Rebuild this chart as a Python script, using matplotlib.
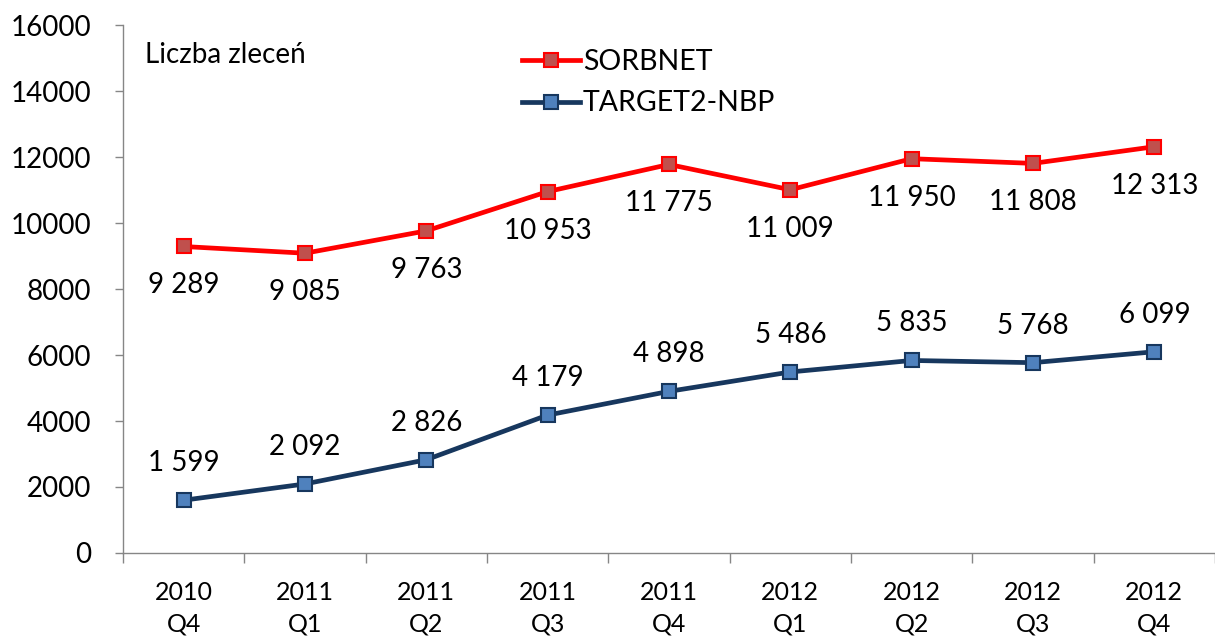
import matplotlib
matplotlib.use("Agg")
import matplotlib.pyplot as plt

categories = ["2010\nQ4", "2011\nQ1", "2011\nQ2", "2011\nQ3", "2011\nQ4",
              "2012\nQ1", "2012\nQ2", "2012\nQ3", "2012\nQ4"]
sorbnet = [9289, 9085, 9763, 10953, 11775, 11009, 11950, 11808, 12313]
target2 = [1599, 2092, 2826, 4179, 4898, 5486, 5835, 5768, 6099]
yticks = [0, 2000, 4000, 6000, 8000, 10000, 12000, 14000, 16000]

plt.rcParams['font.family'] = ['Lato', 'DejaVu Sans']

fig = plt.figure(figsize=(12.15, 6.43), dpi=100)
ax = fig.add_axes([0.1012, 0.140, 0.8988, 0.821])

x = list(range(len(categories)))
ax.plot(x, sorbnet, color='#FF0000', lw=3.4, marker='s', markersize=10.5,
        markerfacecolor='#C0504D', markeredgecolor='#FF0000', markeredgewidth=1.5,
        label='SORBNET', zorder=3)
ax.plot(x, target2, color='#17375E', lw=3.4, marker='s', markersize=10.5,
        markerfacecolor='#4F81BD', markeredgecolor='#17375E', markeredgewidth=1.5,
        label='TARGET2-NBP', zorder=3)

def fmt(v):
    return f"{v:,}".replace(",", " ")

for xi, v in zip(x, sorbnet):
    ax.annotate(fmt(v), (xi, v), xytext=(0, -39), textcoords='offset pixels',
                ha='center', va='center', fontsize=20)
for xi, v in zip(x, target2):
    ax.annotate(fmt(v), (xi, v), xytext=(0, 37), textcoords='offset pixels',
                ha='center', va='center', fontsize=20)

ax.set_xlim(-0.5, len(categories) - 0.5)
ax.set_ylim(0, 16000)
ax.set_yticks(yticks)
ax.set_yticklabels([str(t) for t in yticks], fontsize=20)
ax.set_xticks(x)
ax.set_xticklabels(categories, fontsize=18, linespacing=1.45)
ax.tick_params(axis='x', length=0, pad=20)
ax.set_xticks([i - 0.5 for i in range(len(categories) + 1)], minor=True)
ax.tick_params(axis='x', which='minor', length=7, color='#868686', width=1)
ax.tick_params(axis='y', length=6, color='#868686', width=1, pad=17)

for s in ['top', 'right']:
    ax.spines[s].set_visible(False)
for s in ['left', 'bottom']:
    ax.spines[s].set_color('#868686')
    ax.spines[s].set_linewidth(1)

ax.text(0.02, 0.967, 'Liczba zleceń', transform=ax.transAxes, fontsize=20,
        ha='left', va='top')

leg = ax.legend(loc='upper left', bbox_to_anchor=(0.365, 0.955), frameon=False,
                fontsize=20.5, handlelength=2.05, labelspacing=0.55, handletextpad=0.1,
                borderpad=0, borderaxespad=0)

fig.savefig('out.png', dpi=100)
